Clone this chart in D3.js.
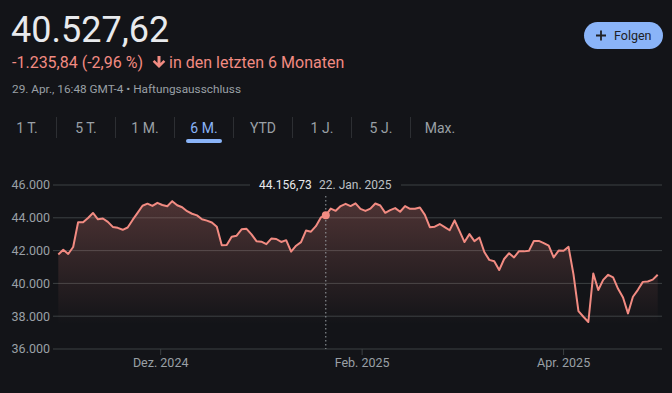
<!DOCTYPE html>
<html>
<head>
<meta charset="utf-8">
<script src="https://cdn.jsdelivr.net/npm/d3@7"></script>
<style>
  html, body { margin: 0; padding: 0; background: #131418; }
  svg { display: block; font-family: Roboto, "Noto Sans", sans-serif; }
</style>
</head>
<body>
<div class="chart"></div>
<script>
  // trading days, 31 Oct 2024 .. 29 Apr 2025
  const dates = [
    "2024-10-31",
    "2024-11-01","2024-11-04","2024-11-05","2024-11-06","2024-11-07","2024-11-08","2024-11-11","2024-11-12","2024-11-13","2024-11-14",
    "2024-11-15","2024-11-18","2024-11-19","2024-11-20","2024-11-21","2024-11-22","2024-11-25","2024-11-26","2024-11-27","2024-11-29",
    "2024-12-02","2024-12-03","2024-12-04","2024-12-05","2024-12-06","2024-12-09","2024-12-10","2024-12-11","2024-12-12","2024-12-13",
    "2024-12-16","2024-12-17","2024-12-18","2024-12-19","2024-12-20","2024-12-23","2024-12-24","2024-12-26","2024-12-27","2024-12-30","2024-12-31",
    "2025-01-02","2025-01-03","2025-01-06","2025-01-07","2025-01-08","2025-01-10","2025-01-13","2025-01-14","2025-01-15","2025-01-16",
    "2025-01-17","2025-01-21","2025-01-22","2025-01-23","2025-01-24","2025-01-27","2025-01-28","2025-01-29","2025-01-30","2025-01-31",
    "2025-02-03","2025-02-04","2025-02-05","2025-02-06","2025-02-07","2025-02-10","2025-02-11","2025-02-12","2025-02-13","2025-02-14",
    "2025-02-18","2025-02-19","2025-02-20","2025-02-21","2025-02-24","2025-02-25","2025-02-26","2025-02-27","2025-02-28",
    "2025-03-03","2025-03-04","2025-03-05","2025-03-06","2025-03-07","2025-03-10","2025-03-11","2025-03-12","2025-03-13","2025-03-14",
    "2025-03-17","2025-03-18","2025-03-19","2025-03-20","2025-03-21","2025-03-24","2025-03-25","2025-03-26","2025-03-27","2025-03-28","2025-03-31",
    "2025-04-01","2025-04-02","2025-04-03","2025-04-04","2025-04-07","2025-04-08","2025-04-09","2025-04-10","2025-04-11","2025-04-14",
    "2025-04-15","2025-04-16","2025-04-17","2025-04-21","2025-04-22","2025-04-23","2025-04-24","2025-04-25","2025-04-28","2025-04-29"
  ];

  const closes = [
    41763,
    42052, 41795, 42222, 43729, 43730, 43989, 44293, 43911, 43958, 43751, 43445, 43390, 43269, 43408, 43870, 44297, 44736, 44860, 44722, 44911,
    44782, 44705, 45014, 44765, 44643, 44401, 44248, 44149, 43914, 43828, 43717, 43450, 42327, 42343, 42841, 42907, 43297, 43326, 42992, 42574, 42544,
    42392, 42732, 42707, 42528, 42636, 41938, 42297, 42518, 43222, 43153, 43488, 44025, 44156.73, 44565, 44424, 44714, 44850, 44714, 44882, 44545,
    44422, 44556, 44873, 44748, 44303, 44470, 44593, 44368, 44711, 44546, 44556, 44627, 44177, 43428, 43461, 43621, 43433, 43239, 43841,
    43191, 42521, 43006, 42579, 42802, 41912, 41433, 41350, 40814, 41488, 41842, 41582, 41965, 41953, 41985, 42583, 42588, 42455, 42300, 41584, 42002,
    41990, 42226, 40546, 38315, 37966, 37646, 40609, 39594, 40213, 40525, 40369, 39669, 39142, 38170, 39187, 39607, 40093, 40114, 40228, 40528
  ];

  const yTicks = [36000, 38000, 40000, 42000, 44000, 46000];
  const monthTicks = ["2024-12-01", "2025-02-01", "2025-04-01"];
  const monthLabels = ["Dez. 2024", "Feb. 2025", "Apr. 2025"];
  const ranges = ["1 T.", "5 T.", "1 M.", "6 M.", "YTD", "1 J.", "5 J.", "Max."];
  const activeRange = "6 M.";
  const hoverDate = "2025-01-22";
  const hoverLabel = "22. Jan. 2025";

  const width = 672;
  const height = 393;
  const fmt = d3.formatLocale({ decimal: ",", thousands: ".", grouping: [3], currency: ["", " €"] });
  const fmtInt = fmt.format(",.0f");
  const fmt2 = fmt.format(",.2f");

  const svg = d3.select(".chart")
    .append("svg")
    .attr("width", width)
    .attr("height", height);

  // ---- header ----
  svg.append("text")
    .attr("x", 11).attr("y", 42)
    .attr("font-size", "36px")
    .attr("fill", "#e8eaed")
    .text("40.527,62");

  svg.append("text")
    .attr("x", 12).attr("y", 68)
    .attr("font-size", "16px")
    .attr("fill", "#f28b82")
    .text("-1.235,84 (-2,96 %)");

  // down arrow icon
  svg.append("path")
    .attr("d", "M157.5,56 h3 v7 l3,-3 l1.8,1.8 l-6.3,6.2 l-6.3,-6.2 l1.8,-1.8 l3,3 z")
    .attr("fill", "#f28b82");

  svg.append("text")
    .attr("x", 169).attr("y", 68)
    .attr("font-size", "16px")
    .attr("fill", "#f28b82")
    .text("in den letzten 6 Monaten");

  svg.append("text")
    .attr("x", 12).attr("y", 93)
    .attr("font-size", "11.8px")
    .attr("fill", "#9aa0a6")
    .text("29. Apr., 16:48 GMT-4 • Haftungsausschluss");

  // Folgen button
  svg.append("rect")
    .attr("x", 584).attr("y", 22)
    .attr("width", 79).attr("height", 27)
    .attr("rx", 13.5)
    .attr("fill", "#8ab4f8");
  svg.append("path")
    .attr("d", "M601,30.5 v10 M596,35.5 h10")
    .attr("stroke", "#202124")
    .attr("stroke-width", 1.8);
  svg.append("text")
    .attr("x", 614).attr("y", 40)
    .attr("font-size", "12.5px")
    .attr("fill", "#202124")
    .text("Folgen");

  // ---- range tabs ----
  const tabX = d3.scalePoint().domain(ranges).range([27, 440]);
  svg.selectAll(".tab")
    .data(ranges)
    .enter()
    .append("text")
    .attr("class", "tab")
    .attr("x", d => tabX(d))
    .attr("y", 133)
    .attr("text-anchor", "middle")
    .attr("font-size", "14px")
    .attr("fill", d => d == activeRange ? "#8ab4f8" : "#9aa0a6")
    .text(d => d);

  svg.selectAll(".tab-sep")
    .data(ranges.slice(1))
    .enter()
    .append("line")
    .attr("class", "tab-sep")
    .attr("x1", (d, i) => (tabX(ranges[i]) + tabX(d)) / 2)
    .attr("x2", (d, i) => (tabX(ranges[i]) + tabX(d)) / 2)
    .attr("y1", 117).attr("y2", 138)
    .attr("stroke", "#2d2f33")
    .attr("stroke-width", 1);

  svg.append("rect")
    .attr("x", tabX(activeRange) - 18).attr("y", 139)
    .attr("width", 36).attr("height", 4)
    .attr("rx", 2)
    .attr("fill", "#8ab4f8");

  // ---- chart ----
  const x = d3.scaleLinear()
    .domain([0, closes.length - 1])
    .range([58.3, 657.7]);

  const y = d3.scaleLinear()
    .domain([36000, 46000])
    .range([349, 185]);

  const parse = d3.timeParse("%Y-%m-%d");
  const times = dates.map(parse);

  // position a calendar day between trading days
  const dayIndex = s => {
    const t = parse(s);
    const i = d3.bisectLeft(times, t);
    if (+times[i] == +t) return i;
    return i - 1 + (t - times[i - 1]) / (times[i] - times[i - 1]);
  };

  svg.selectAll(".grid")
    .data(yTicks)
    .enter()
    .append("line")
    .attr("class", "grid")
    .attr("x1", 53).attr("x2", 662)
    .attr("y1", d => y(d)).attr("y2", d => y(d))
    .attr("stroke", "#3c4043")
    .attr("stroke-width", 1);

  svg.selectAll(".y-label")
    .data(yTicks)
    .enter()
    .append("text")
    .attr("class", "y-label")
    .attr("x", 50)
    .attr("y", d => y(d))
    .attr("dy", "0.35em")
    .attr("text-anchor", "end")
    .attr("font-size", "12.5px")
    .attr("fill", "#9aa0a6")
    .text(d => fmtInt(d));

  svg.selectAll(".x-tick")
    .data(monthTicks)
    .enter()
    .append("line")
    .attr("class", "x-tick")
    .attr("x1", d => x(dayIndex(d))).attr("x2", d => x(dayIndex(d)))
    .attr("y1", 349).attr("y2", 355)
    .attr("stroke", "#3c4043");

  svg.selectAll(".x-label")
    .data(monthTicks)
    .enter()
    .append("text")
    .attr("class", "x-label")
    .attr("x", d => x(dayIndex(d)))
    .attr("y", 367)
    .attr("text-anchor", "middle")
    .attr("font-size", "12.5px")
    .attr("fill", "#9aa0a6")
    .text((d, i) => monthLabels[i]);

  // area gradient
  const grad = svg.append("defs")
    .append("linearGradient")
    .attr("id", "fade")
    .attr("x1", 0).attr("x2", 0).attr("y1", 0).attr("y2", 1);
  grad.append("stop").attr("offset", "0%").attr("stop-color", "#f28b82").attr("stop-opacity", 0.26);
  grad.append("stop").attr("offset", "100%").attr("stop-color", "#f28b82").attr("stop-opacity", 0);

  const area = d3.area()
    .x((d, i) => x(i))
    .y0(y(37500))
    .y1(d => y(d));

  svg.append("path")
    .datum(closes)
    .attr("d", area)
    .attr("fill", "url(#fade)");

  // hover marker
  const hi = dates.indexOf(hoverDate);
  svg.append("line")
    .attr("x1", x(hi)).attr("x2", x(hi))
    .attr("y1", 196).attr("y2", 349)
    .attr("stroke", "#9aa0a6")
    .attr("stroke-width", 1)
    .attr("stroke-dasharray", "1.5,2.5");

  const line = d3.line()
    .x((d, i) => x(i))
    .y(d => y(d));

  svg.append("path")
    .datum(closes)
    .attr("d", line)
    .attr("fill", "none")
    .attr("stroke", "#f28b82")
    .attr("stroke-width", 2)
    .attr("stroke-linejoin", "round");

  svg.append("circle")
    .attr("cx", x(hi)).attr("cy", y(closes[hi]))
    .attr("r", 4)
    .attr("fill", "#f28b82");

  // tooltip label
  svg.append("rect")
    .attr("x", 250).attr("y", 176)
    .attr("width", 151).attr("height", 18)
    .attr("fill", "#131418");
  svg.append("text")
    .attr("x", 259).attr("y", y(46000))
    .attr("dy", "0.35em")
    .attr("font-size", "12px")
    .attr("fill", "#e8eaed")
    .text(fmt2(closes[hi]));
  svg.append("text")
    .attr("x", 319).attr("y", y(46000))
    .attr("dy", "0.35em")
    .attr("font-size", "12px")
    .attr("fill", "#bdc1c6")
    .text(hoverLabel);
</script>
</body>
</html>
